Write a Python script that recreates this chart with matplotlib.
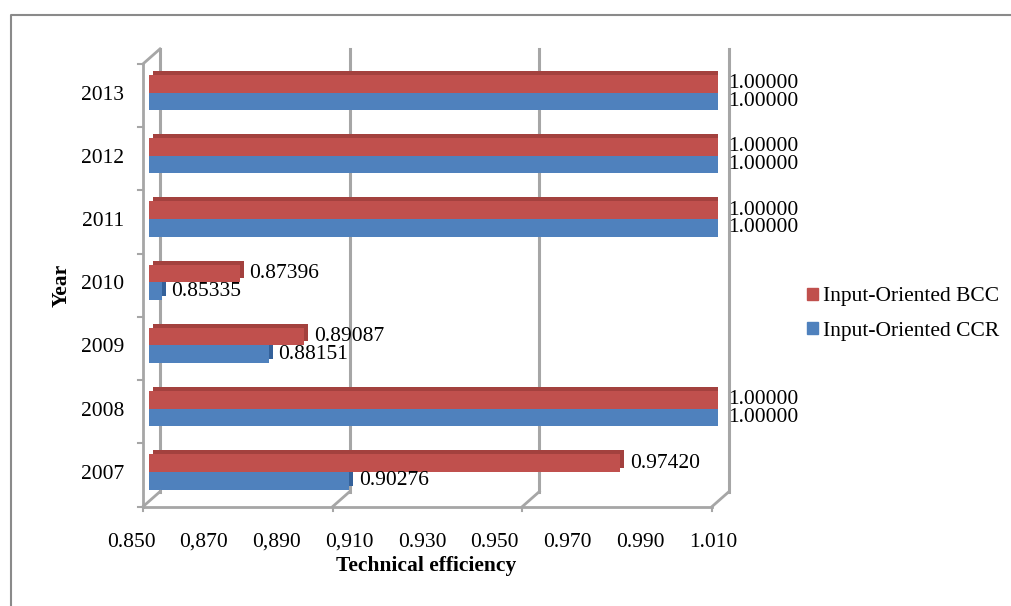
import numpy as np
import matplotlib.pyplot as plt
from matplotlib.transforms import offset_copy, IdentityTransform
from matplotlib.lines import Line2D
from matplotlib.patches import Patch

plt.rcParams['font.family'] = ['Liberation Serif', 'DejaVu Serif']

years = ['2007', '2008', '2009', '2010', '2011', '2012', '2013']
bcc = [0.97420, 1.00000, 0.89087, 0.87396, 1.00000, 1.00000, 1.00000]
ccr = [0.90276, 1.00000, 0.88151, 0.85335, 1.00000, 1.00000, 1.00000]
# labels typed on the original axis (evenly spaced, some with commas)
tick_vals = [0.850, 0.870, 0.890, 0.910, 0.930, 0.950, 0.970, 0.990, 1.010]
tick_text = ['0.850', '0,870', '0,890', '0,910', '0.930', '0.950', '0.970', '0.990', '1.010']
grid_vals = [0.85, 0.90, 0.95, 1.00]

W, H = 1011, 606
fs = 15.5
fig = plt.figure(figsize=(W / 100, H / 100), dpi=100)
ax = fig.add_axes([149 / W, 1 - 503.6 / H, 569 / W, 442.7 / H])
ax.set_xlim(0.85, 1.0)
ax.set_ylim(-0.5, 6.5)
ax.set_autoscale_on(False)
for s in ax.spines.values():
    s.set_visible(False)
ax.patch.set_alpha(0)

y = np.arange(len(years))
h = 0.28
base = 0.85
bcc_a = np.array(bcc)
ccr_a = np.array(ccr)

# 3d look: darker copy shifted up/right behind the front face
depth = offset_copy(ax.transData, fig=fig, x=4, y=4, units='dots')
ax.barh(y - h / 2, ccr_a - base, left=base, height=h, color='#34619a', transform=depth, zorder=2)
ax.barh(y + h / 2, bcc_a - base, left=base, height=h, color='#a3413e', transform=depth, zorder=2)
ax.barh(y - h / 2, ccr_a - base, left=base, height=h, color='#4F81BD', zorder=3)
ax.barh(y + h / 2, bcc_a - base, left=base, height=h, color='#C0504D', zorder=3)

for i in range(len(years)):
    ax.annotate(f'{bcc[i]:.5f}', (bcc[i], y[i] + h / 2), xytext=(7, 0), textcoords='offset points',
                va='center', ha='left', fontsize=fs, annotation_clip=False)
    ax.annotate(f'{ccr[i]:.5f}', (ccr[i], y[i] - h / 2), xytext=(7, 0), textcoords='offset points',
                va='center', ha='left', fontsize=fs, annotation_clip=False)

# walls / floor
gc = '#a6a6a6'
wall = offset_copy(ax.transData, fig=fig, x=11, y=12, units='dots')
front = offset_copy(ax.transData, fig=fig, x=-6, y=-3, units='dots')
for g in grid_vals:
    ax.plot([g, g], [-0.5, 6.5], color=gc, lw=2.2, transform=wall, zorder=1, clip_on=False)
    p1 = front.transform((g, -0.5))
    p2 = wall.transform((g, -0.5))
    fig.add_artist(Line2D([p1[0], p2[0]], [p1[1], p2[1]], color=gc, lw=2, transform=IdentityTransform()))
    q = front.transform((g, -0.5))
    fig.add_artist(Line2D([q[0], q[0]], [q[1], q[1] - 4], color=gc, lw=1.5, transform=IdentityTransform()))
# front floor edge and left wall front edge
ax.plot([0.85, 1.0], [-0.5, -0.5], color=gc, lw=2, transform=front, clip_on=False)
ax.plot([0.85, 0.85], [-0.5, 6.5], color=gc, lw=2, transform=front, clip_on=False)
p1 = front.transform((0.85, 6.5))
p2 = wall.transform((0.85, 6.5))
fig.add_artist(Line2D([p1[0], p2[0]], [p1[1], p2[1]], color=gc, lw=2, transform=IdentityTransform()))
for k in np.arange(-0.5, 7, 1.0):
    q = front.transform((0.85, k))
    fig.add_artist(Line2D([q[0] - 5, q[0]], [q[1], q[1]], color=gc, lw=1.5, transform=IdentityTransform()))

ax.set_yticks(y)
ax.set_yticklabels(years, fontsize=fs)
ax.tick_params(axis='y', length=0, pad=18)
ax.set_xticks([])

# typed axis labels
lab = fig.add_axes([131 / W, 1 - 530 / H, 582 / W, 0.001])
lab.set_xlim(0.85, 1.01)
lab.set_xticks(tick_vals)
lab.set_xticklabels(tick_text, fontsize=fs)
lab.set_yticks([])
lab.tick_params(axis='x', length=0, pad=2)
for s in lab.spines.values():
    s.set_visible(False)
lab.patch.set_alpha(0)

fig.text(426 / W, 1 - 566 / H, 'Technical efficiency', ha='center', va='center',
         fontsize=fs, fontweight='bold')
fig.text(62 / W, 1 - 285 / H, 'Year', ha='center', va='center', rotation=90,
         fontsize=fs, fontweight='bold')

handles = [Patch(color='#C0504D'), Patch(color='#4F81BD')]
fig.legend(handles, ['Input-Oriented BCC', 'Input-Oriented CCR'], loc='center left',
           bbox_to_anchor=(807 / W, 1 - 314 / H), frameon=False, fontsize=fs,
           handlelength=0.5, handleheight=0.5, handletextpad=0.25, labelspacing=0.7,
           borderpad=0, borderaxespad=0)

# chart border (left and top visible)
fig.add_artist(Line2D([11 / W, 11 / W, 1], [0, 1 - 15 / H, 1 - 15 / H], color='#8a8a8a', lw=1.5,
                      transform=fig.transFigure))

fig.savefig('out.png', dpi=100)
